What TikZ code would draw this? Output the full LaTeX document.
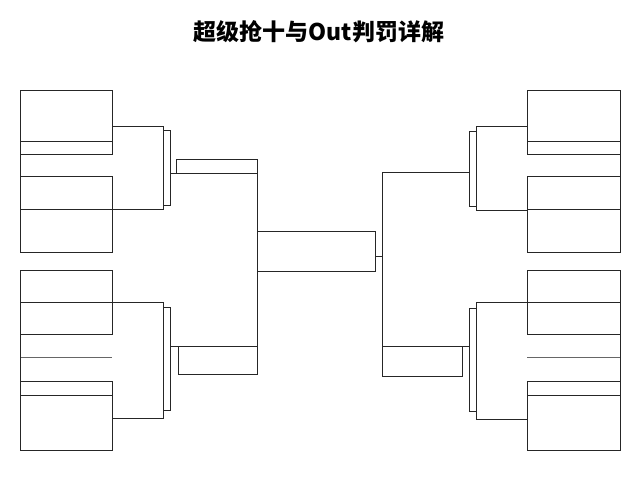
\documentclass[tikz,border=0pt]{standalone}
\usepackage{fontspec}
\newfontfamily\cjk{Noto Sans CJK SC}[BoldFont={Noto Sans CJK SC Black}]
\usetikzlibrary{fit}
\tikzset{
  ln/.style={draw=black!85, line width=1pt},
  bx/.style={ln, rectangle, inner sep=0pt, outer sep=0pt, fit={#1}},
  thinln/.style={draw=black!60, line width=1pt}
}
\begin{document}
\begin{tikzpicture}[x=1pt,y=-1pt]
\useasboundingbox (0,0) rectangle (640,480);
\fill[white] (0,0) rectangle (640,480);
\node[font=\cjk\bfseries\fontsize{23}{27}\selectfont] (title) at (319,32) {超级抢十与Out判罚详解};

% ---------- left top group ----------
\node[bx={(20,90)(112,141.7)}] (lta) {};
\node[bx={(20,141.7)(112,154)}] (ltas) {};
\node[bx={(20,176.7)(112,209.3)}] (ltb) {};
\node[bx={(20,209.3)(112,252)}] (ltbs) {};
\draw[ln] (ltas.south west) -- (ltb.north west);
\node[bx={(163,130.7)(170.7,205.7)}] (ltr) {};
\coordinate (ltk1) at (112,126.7);
\coordinate (ltk2) at (112,209.3);
\draw[ln] (ltk1) -- (ltk1 -| ltr.west) -- (ltk2 -| ltr.west) -- (ltk2);

% ---------- left bottom group ----------
\node[bx={(20,270)(112,302.7)}] (lba) {};
\node[bx={(20,302.7)(112,334)}] (lbas) {};
\coordinate (lm1) at (20,357.7);
\coordinate (lm2) at (112,357.7);
\draw[thinln] (lm1) -- (lm2);
\node[bx={(20,381.7)(112,395.3)}] (lbb) {};
\node[bx={(20,395.3)(112,450.7)}] (lbbs) {};
\draw[ln] (lbas.south west) -- (lbb.north west);
\node[bx={(163.3,307.7)(170.7,410)}] (lbr) {};
\coordinate (lbk1) at (112,302.7);
\coordinate (lbk2) at (112,418.3);
\draw[ln] (lbk1) -- (lbk1 -| lbr.west) -- (lbk2 -| lbr.west) -- (lbk2);

% ---------- left semi boxes and connector ----------
\node[bx={(176.7,159)(257.3,173)}] (lsf) {};
\node[bx={(178.3,346.7)(257.3,374.3)}] (lsb) {};
\draw[ln] (ltr.east |- lsf.south west) -- (lsf.south east) -- (lsb.north east) -- (lbr.east |- lsb.north west);

% ---------- final ----------
\node[bx={(257.3,231.7)(375,271.7)}] (fin) {};
\coordinate (rj) at (382.7,256.7);
\draw[ln] (fin.east |- rj) -- (rj);

% ---------- right top group ----------
\node[bx={(527.3,90)(620,141.7)}] (rta) {};
\node[bx={(527.3,141.7)(620,154)}] (rtas) {};
\node[bx={(527.3,176.7)(620,209.3)}] (rtb) {};
\node[bx={(527.3,209.3)(620,252)}] (rtbs) {};
\draw[ln] (rtas.south east) -- (rtb.north east);
\node[bx={(469.3,131)(476,206)}] (rtr) {};
\coordinate (rtk1) at (527.3,126.7);
\coordinate (rtk2) at (527.3,210);
\draw[ln] (rtk1) -- (rtk1 -| rtr.east) -- (rtk2 -| rtr.east) -- (rtk2);

% ---------- right bottom group ----------
\node[bx={(527.3,270)(620,302.7)}] (rba) {};
\node[bx={(527.3,302.7)(620,334)}] (rbas) {};
\coordinate (rm1) at (527.3,357.7);
\coordinate (rm2) at (620,357.7);
\draw[thinln] (rm1) -- (rm2);
\node[bx={(527.3,381.7)(620,395.3)}] (rbb) {};
\node[bx={(527.3,395.3)(620,450.7)}] (rbbs) {};
\draw[ln] (rbas.south east) -- (rbb.north east);
\node[bx={(469.3,308.7)(476,411.7)}] (rbr) {};
\coordinate (rbk1) at (527.3,302.7);
\coordinate (rbk2) at (527.3,419);
\draw[ln] (rbk1) -- (rbk1 -| rbr.east) -- (rbk2 -| rbr.east) -- (rbk2);

% ---------- right semi and connector ----------
\node[bx={(382.7,346.7)(462.3,376)}] (rsb) {};
\coordinate (rtop) at (382.7,172);
\draw[ln] (rtr.west |- rtop) -- (rtop) -- (rsb.north west) -- (rbr.west |- rsb.north west);
\end{tikzpicture}
\end{document}
